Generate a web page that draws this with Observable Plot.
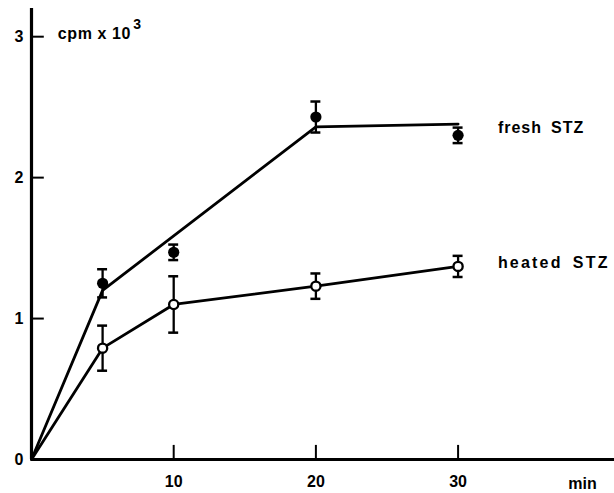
<!DOCTYPE html>
<html>
<head>
<meta charset="utf-8">
<script src="https://cdn.jsdelivr.net/npm/d3@7"></script>
<script src="https://cdn.jsdelivr.net/npm/@observablehq/plot@0.6"></script>
<style>
  html, body { margin: 0; padding: 0; background: #fff; }
  #chart svg { display: block; }
</style>
</head>
<body>
<div id="chart"></div>
<script>
// Sampling times (min)
const times = [5, 10, 20, 30];
// fresh STZ (cpm x 10^3), mean and error
const freshMean = [1.25, 1.47, 2.43, 2.30];
const freshErr  = [0.10, 0.055, 0.11, 0.055];
// heated STZ
const heatedMean = [0.79, 1.10, 1.23, 1.37];
const heatedErr  = [0.16, 0.20, 0.09, 0.075];
// drawn curves
const freshCurveT = [0, 5, 20, 30];
const freshCurveV = [0, 1.20, 2.36, 2.38];
const heatedCurveT = [0, 5, 10, 20, 30];
const heatedCurveV = [0, 0.79, 1.10, 1.23, 1.37];
// axis ticks
const xTicks = [10, 20, 30];
const yTicks = [0, 1, 2, 3];
const seriesLabels = ["fresh STZ", "heated STZ"];
const unitLabel = "cpm x 10";
const unitExp = "3";
const xUnit = "min";

const fresh = times.map((t, i) => ({t, v: freshMean[i], lo: freshMean[i] - freshErr[i], hi: freshMean[i] + freshErr[i]}));
const heated = times.map((t, i) => ({t, v: heatedMean[i], lo: heatedMean[i] - heatedErr[i], hi: heatedMean[i] + heatedErr[i]}));
const freshCurve = freshCurveT.map((t, i) => ({t, v: freshCurveV[i]}));
const heatedCurve = heatedCurveT.map((t, i) => ({t, v: heatedCurveV[i]}));
const all = [...fresh, ...heated];
const caps = all.flatMap(d => [{t: d.t, y: d.lo}, {t: d.t, y: d.hi}]);
const capHalf = 0.35;

const font = "'Liberation Sans', Arial, Helvetica, sans-serif";

const plot = Plot.plot({
  width: 614,
  height: 493,
  marginLeft: 31,
  marginRight: 0,
  marginTop: 8,
  marginBottom: 34,
  style: {fontFamily: font, background: "#fff", color: "#000"},
  x: {domain: [0, 41]},
  y: {domain: [0, 3.2]},
  marks: [
    // axes lines
    Plot.ruleX([0], {y1: 0, y2: 3.2, stroke: "#000", strokeWidth: 3.2}),
    Plot.ruleY([0], {x1: 0, x2: 41, stroke: "#000", strokeWidth: 3.2}),
    // inward ticks
    Plot.ruleY(yTicks.filter(d => d > 0), {y: d => d, x1: 0, x2: 0.9, stroke: "#000", strokeWidth: 2}),
    Plot.ruleX(xTicks, {x: d => d, y1: 0, y2: 0.1, stroke: "#000", strokeWidth: 2}),
    // tick labels
    Plot.axisY({ticks: yTicks, tickSize: 0, tickPadding: 8, tickFormat: d => String(d), fontSize: 16, fontWeight: "bold", label: null}),
    Plot.axisX({ticks: xTicks, tickSize: 0, tickPadding: 16, tickFormat: d => String(d), fontSize: 16, fontWeight: "bold", label: null}),
    Plot.text([xUnit], {x: 38.75, y: 0, dy: 24, text: d => d, fontSize: 16, fontWeight: "bold"}),
    Plot.text([unitLabel], {x: 1.85, y: 3.02, text: d => d, textAnchor: "start", fontSize: 16, fontWeight: "bold"}),
    Plot.text([unitExp], {x: 7.15, y: 3.085, text: d => d, textAnchor: "start", fontSize: 14, fontWeight: "bold"}),
    // curves
    Plot.line(freshCurve, {x: "t", y: "v", stroke: "#000", strokeWidth: 2.8}),
    Plot.line(heatedCurve, {x: "t", y: "v", stroke: "#000", strokeWidth: 2.8}),
    // error bars
    Plot.ruleX(all, {x: "t", y1: "lo", y2: "hi", stroke: "#000", strokeWidth: 2.3}),
    Plot.ruleY(caps, {y: "y", x1: d => d.t - capHalf, x2: d => d.t + capHalf, stroke: "#000", strokeWidth: 2.5}),
    // points
    Plot.dot(fresh, {x: "t", y: "v", r: 5.6, fill: "#000", stroke: "none"}),
    Plot.dot(heated, {x: "t", y: "v", r: 4.6, fill: "#fff", stroke: "#000", strokeWidth: 2.3}),
    // series labels
    Plot.text([seriesLabels[0]], {x: 32.8, y: 2.355, text: d => d.replace(" ", "\u2002"), textAnchor: "start", fontSize: 16, fontWeight: "bold"}),
    Plot.text([seriesLabels[1]], {x: 32.8, y: 1.397, text: d => d.replace(" ", "\u2002"), textAnchor: "start", fontSize: 16, fontWeight: "bold"})
  ]
});
plot.querySelectorAll("text").forEach(t => {
  const s = t.textContent;
  if (s.startsWith("heated")) t.setAttribute("letter-spacing", "2.2px");
  if (s.startsWith("fresh")) t.setAttribute("letter-spacing", "1px");
  if (s.startsWith("cpm")) t.setAttribute("letter-spacing", "0.6px");
});
document.getElementById("chart").appendChild(plot);
</script>
</body>
</html>
